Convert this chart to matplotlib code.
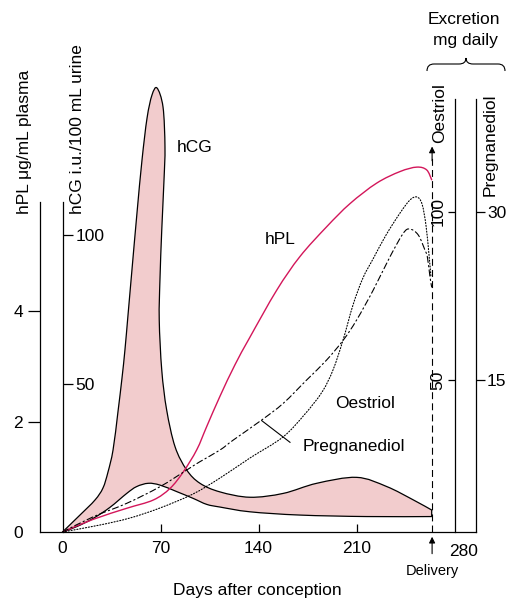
import matplotlib
matplotlib.use("Agg")
import matplotlib.pyplot as plt
from matplotlib.path import Path
from matplotlib.patches import PathPatch

plt.rcParams["font.family"] = ["Liberation Sans", "DejaVu Sans"]
plt.rcParams["lines.scale_dashes"] = False

# ---------------------------------------------------------------- data
# hCG (i.u./100 mL urine): outline of the shaded range, upper and lower edges
hcg_upper_days = [0, 12.5, 23.2, 28.9, 32.5, 36.1, 39.6, 42.5, 44.6, 46.8,
                  49.6, 53.2, 56.8, 60.4, 63.9, 67.5, 71.8, 73.2, 72.5, 70.9, 69.6,
                  69.1, 70.9, 74.4, 80.4, 88.7, 98.2, 112.5, 133.9, 157.7, 181.6,
                  210.1, 231.6, 250.6, 263.7]
hcg_upper_vals = [0, 5.72, 10.77, 14.81, 20.2, 27.61, 40.4, 51.85, 61.3, 73.1,
                  88.2, 107.4, 125.3, 139.4, 147.1, 149.5, 143.1, 129.6, 118.5, 101.7,
                  84.8, 71.4, 54.5, 41.1, 28.7, 20.9, 16.4, 13.5, 11.7, 13.0, 16.4,
                  18.4, 15.3, 10.8, 7.4]
hcg_lower_days = [0, 10.1, 22.0, 33.9, 45.9, 53.0, 61.3, 69.6, 81.6, 93.4, 103.0,
                  112.5, 133.9, 169.6, 217.3, 263.7]
hcg_lower_vals = [0, 1.8, 4.6, 8.3, 13.0, 15.3, 16.4, 15.8, 13.6, 11.3, 9.3,
                  8.4, 6.8, 5.7, 5.2, 5.2]

# hPL (ug/mL plasma)
hpl_days = [0, 22.0, 45.9, 64.9, 76.8, 86.3, 95.9, 103.0, 112.5, 123.2, 133.9,
            153.0, 169.6, 188.7, 205.4, 224.4, 241.1, 253.0, 260.1, 263.7]
hpl_vals = [0, 0.23, 0.43, 0.58, 0.79, 1.09, 1.49, 1.91, 2.46, 3.03, 3.53,
            4.38, 4.99, 5.53, 5.95, 6.32, 6.53, 6.61, 6.56, 6.38]

# Oestriol excretion (mg daily)
oes_days = [0, 26.8, 48.2, 69.6, 93.2, 112.5, 133.9, 157.5, 173.2, 185.4, 193.2,
            200.4, 207.5, 214.6, 221.8, 231.1, 241.1, 248.2, 253.2, 256.8, 259.6,
            261.8, 263.2]
oes_vals = [4.76, 6.85, 8.93, 11.9, 16.07, 20.83, 26.79, 33.04, 39.88, 46.43, 52.98,
            61.9, 72.32, 80.36, 86.01, 93.15, 99.7, 103.57, 104.46, 102.38, 96.13,
            87.2, 80.65]

# Pregnanediol excretion (mg daily)
preg_days = [0, 22.0, 45.9, 69.6, 88.7, 98.2, 112.5, 122.0, 142.3, 157.7, 174.4,
             188.7, 200.6, 210.1, 222.0, 233.9, 243.4, 248.2, 254.1, 258.9, 260.6,
             262.5, 263.7]
preg_vals = [1.43, 2.79, 3.99, 5.47, 6.96, 7.71, 8.75, 9.64, 11.43, 12.92, 15.0,
             16.79, 18.57, 20.36, 23.04, 26.0, 28.1, 28.48, 27.95, 26.6, 26.0,
             24.2, 23.3]

delivery_day = 264
day_ticks = [0, 70, 140, 210]
hcg_ticks = [50, 100]
hpl_ticks = [0, 2, 4]
oes_ticks = [50, 100]
preg_ticks = [15, 30]

# ---------------------------------------------------------------- layout
W, H = 511, 602
fig = plt.figure(figsize=(W / 100, H / 100), dpi=100)


def fx(px):
    return px / W


def fy(py):
    return 1 - py / H


PT = 0.72  # points per pixel at 100 dpi
RED = "#d3165a"
PINK = "#f2cccd"
FS = 12.5


def smooth(xs, ys, start=True):
    """Cubic Bezier segments through the given points (Catmull-Rom tangents)."""
    pts = list(zip(xs, ys))
    n = len(pts)
    verts = [pts[0]] if start else []
    codes = [Path.MOVETO] if start else []
    for i in range(n - 1):
        p0 = pts[i - 1] if i > 0 else pts[i]
        p1, p2 = pts[i], pts[i + 1]
        p3 = pts[i + 2] if i + 2 < n else pts[i + 1]
        c1 = (p1[0] + (p2[0] - p0[0]) / 6, p1[1] + (p2[1] - p0[1]) / 6)
        c2 = (p2[0] - (p3[0] - p1[0]) / 6, p2[1] - (p3[1] - p1[1]) / 6)
        verts += [c1, c2, p2]
        codes += [Path.CURVE4] * 3
    return verts, codes


def curve(a, xs, ys, **kw):
    v, c = smooth(xs, ys)
    a.add_patch(PathPatch(Path(v, c), fill=False, transform=a.transData,
                          capstyle="round", **kw))


rect = [fx(40), fy(532), (476 - 40) / W, (532 - 99) / H]
ax = fig.add_axes(rect)
ax.set_xlim(-22.5 / 1.4, 413.5 / 1.4)
ax.set_ylim(0, 433 / 2.97)

for s in ("top", "right"):
    ax.spines[s].set_visible(False)
ax.spines["left"].set_position(("data", 0))
ax.spines["left"].set_bounds(0, 330 / 2.97)
for s in ax.spines.values():
    s.set_linewidth(0.9)

ax.set_xticks(day_ticks)
ax.set_xticklabels([str(d) for d in day_ticks])
ax.tick_params(axis="x", direction="in", length=8 * PT, width=0.9, pad=9 * PT,
               labelsize=FS)
ax.xaxis.get_major_ticks()[0].tick1line.set_visible(False)

ax.set_yticks(hcg_ticks)
ax.set_yticklabels([str(v) for v in hcg_ticks])
ax.tick_params(axis="y", direction="in", length=10 * PT, width=0.9,
               pad=-13 * PT, labelsize=FS)
for t in ax.get_yticklabels():
    t.set_horizontalalignment("left")

ax.set_xlabel("Days after conception", fontsize=FS)
ax.xaxis.set_label_coords((257 - 40) / 436, (532 - 590) / 433)
ax.xaxis.label.set_va("center")
ax.set_ylabel("hCG i.u./100 mL urine", fontsize=FS)
ax.yaxis.set_label_coords((77 - 40) / 436, (532 - 129) / 433)
ax.yaxis.label.set_va("center")
ax.yaxis.label.set_ha("center")


def overlay(ylim):
    a = fig.add_axes(rect, sharex=ax)
    a.patch.set_visible(False)
    for s in a.spines.values():
        s.set_visible(False)
        s.set_linewidth(0.9)
    a.set_ylim(*ylim)
    a.tick_params(axis="x", which="both", bottom=False, labelbottom=False)
    return a


# hPL scale (outer left)
ax_hpl = overlay((0, 433 / 55.2))
ax_hpl.spines["left"].set_visible(True)
ax_hpl.spines["left"].set_bounds(0, 330 / 55.2)
ax_hpl.set_yticks(hpl_ticks)
ax_hpl.set_yticklabels([str(v) for v in hpl_ticks])
ax_hpl.tick_params(axis="y", direction="out", length=12 * PT, width=0.9,
                   pad=5 * PT, labelsize=FS)
ax_hpl.yaxis.get_major_ticks()[0].tick1line.set_visible(False)
ax_hpl.set_ylabel("hPL μg/mL plasma", fontsize=FS)
ax_hpl.yaxis.set_label_coords((25 - 40) / 436, (532 - 142) / 433)
ax_hpl.yaxis.label.set_va("center")

# Oestriol scale (at day 280); its zero sits just below the day axis
ax_oes = overlay((16 / 3.36, 449 / 3.36))
ax_oes.spines["left"].set_visible(True)
ax_oes.spines["left"].set_position(("data", 280))
ax_oes.set_yticks(oes_ticks)
ax_oes.set_yticklabels([str(v) for v in oes_ticks], rotation=90, va="center")
ax_oes.tick_params(axis="y", direction="out", length=7 * PT, width=0.9,
                   pad=2 * PT, labelsize=FS)
ax_oes.set_ylabel("Oestriol", fontsize=FS)
ax_oes.yaxis.set_label_coords((440 - 40) / 436, (532 - 113.5) / 433)
ax_oes.yaxis.label.set_va("center")

# Pregnanediol scale (outer right)
ax_preg = overlay((16 / 11.2, 449 / 11.2))
ax_preg.spines["right"].set_visible(True)
ax_preg.yaxis.tick_right()
ax_preg.set_yticks(preg_ticks)
ax_preg.set_yticklabels([str(v) for v in preg_ticks])
ax_preg.tick_params(axis="y", direction="out", length=9 * PT, width=0.9,
                    pad=2 * PT, labelsize=FS)
ax_preg.yaxis.set_label_position("right")
ax_preg.set_ylabel("Pregnanediol", fontsize=FS)
ax_preg.yaxis.set_label_coords((490 - 40) / 436, (532 - 145) / 433)
ax_preg.yaxis.label.set_va("center")
ax_preg.yaxis.label.set_rotation(90)

# ---------------------------------------------------------------- marks
# shaded hCG range: smooth upper edge, straight drop at delivery, smooth lower edge back
uv, uc = smooth(hcg_upper_days, hcg_upper_vals)
lv, lc = smooth(hcg_lower_days[::-1], hcg_lower_vals[::-1], start=False)
band_verts = uv + [(hcg_lower_days[-1], hcg_lower_vals[-1])] + lv + [(0, 0)]
band_codes = uc + [Path.LINETO] + lc + [Path.CLOSEPOLY]
ax.add_patch(PathPatch(Path(band_verts, band_codes), facecolor=PINK,
                       edgecolor="black", lw=0.9, joinstyle="round",
                       transform=ax.transData, clip_on=False, zorder=2))

curve(ax_hpl, hpl_days, hpl_vals, edgecolor=RED, lw=1.0)
curve(ax_oes, oes_days, oes_vals, edgecolor="black", lw=0.8,
      linestyle=(0, (0.8, 1.3)))
curve(ax_preg, preg_days, preg_vals, edgecolor="black", lw=0.8,
      linestyle=(0, (4.5, 2.2, 1.0, 2.2)))

# delivery marker
ax.plot([delivery_day, delivery_day], [0, 126], color="black", lw=0.8,
        linestyle=(0, (5, 3)), zorder=3)
ax.annotate("", xy=(delivery_day, 129.8), xytext=(delivery_day, 125),
            arrowprops=dict(arrowstyle="-|>", color="black", lw=0.8,
                            mutation_scale=9, shrinkA=0, shrinkB=0))
ax.annotate("", xy=(delivery_day, -1.6), xytext=(delivery_day, -7.3),
            arrowprops=dict(arrowstyle="-|>", color="black", lw=0.8,
                            mutation_scale=9, shrinkA=0, shrinkB=0),
            annotation_clip=False)

# pointer to the pregnanediol curve
ax.plot([142.3, 162.5], [37.5, 30.2], color="black", lw=0.8)

# ---------------------------------------------------------------- labels
fig.text(fx(195), fy(147), "hCG", fontsize=FS, ha="center", va="center")
fig.text(fx(280), fy(240), "hPL", fontsize=FS, ha="center", va="center")
fig.text(fx(365), fy(403), "Oestriol", fontsize=FS, ha="center", va="center")
fig.text(fx(354), fy(447), "Pregnanediol", fontsize=FS, ha="center", va="center")
fig.text(fx(464), fy(552), "280", fontsize=FS, ha="center", va="center")
fig.text(fx(432), fy(571), "Delivery", fontsize=10.5, ha="center", va="center")
fig.text(fx(464), fy(19), "Excretion", fontsize=FS, ha="center", va="center")
fig.text(fx(465), fy(41), "mg daily", fontsize=FS, ha="center", va="center")

# curly brace spanning both excretion scales
brace_px = [(427, 71), (427, 64), (434, 64), (459, 64), (466, 64), (466, 58),
            (466, 64), (473, 64), (498, 64), (505, 64), (505, 71)]
codes = [Path.MOVETO, Path.CURVE3, Path.CURVE3, Path.LINETO, Path.CURVE3,
         Path.CURVE3, Path.CURVE3, Path.CURVE3, Path.LINETO, Path.CURVE3, Path.CURVE3]
brace = Path([(fx(x), fy(y)) for x, y in brace_px], codes)
fig.patches.append(PathPatch(brace, transform=fig.transFigure, fill=False,
                             lw=0.8, edgecolor="black"))

fig.savefig("out.png", dpi=100)
